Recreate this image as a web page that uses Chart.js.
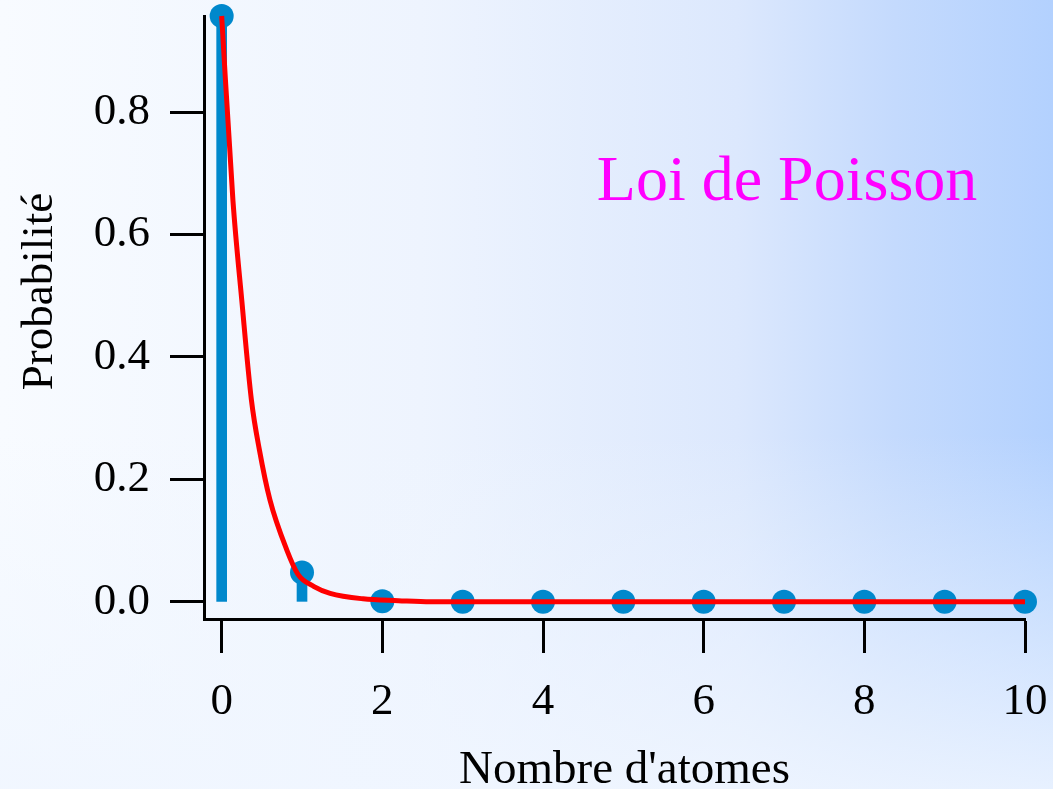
<!DOCTYPE html>
<html>
<head>
<meta charset="utf-8">
<script src="https://cdn.jsdelivr.net/npm/chart.js@4/dist/chart.umd.min.js"></script>
<style>
  html, body { margin: 0; padding: 0; overflow: hidden; }
  #wrap {
    width: 1053px; height: 789px; position: relative;
    background:
      linear-gradient(to bottom, rgba(242,247,255,0) 0%, rgba(242,247,255,0) 55%, rgba(240,246,255,0.85) 100%),
      linear-gradient(to right, #f8fbff 0%, #eef4fe 40%, #dce8fd 70%, #c4dafd 85%, #b3d1fe 100%);
  }
</style>
</head>
<body>
<div id="wrap"><canvas id="chart"></canvas></div>
<script>
// Poisson probabilities at each atom count
const atomCounts = [0, 1, 2, 3, 4, 5, 6, 7, 8, 9, 10];
const probabilities = [0.957, 0.048, 0.001, 0, 0, 0, 0, 0, 0, 0, 0];

// red continuous curve
const curveX = [0, 0.14, 0.25, 0.37, 0.47, 0.6, 0.81, 0.95, 1.15, 1.35, 1.76, 2.2, 2.6, 4, 6, 8, 10];
const curveY = [0.957, 0.656, 0.493, 0.330, 0.248, 0.167, 0.085, 0.045, 0.025, 0.014, 0.005, 0.002, 0, 0, 0, 0, 0];

const xTicks = [0, 2, 4, 6, 8, 10];
const xTickLabels = ['0', '2', '4', '6', '8', '10'];
const yTicks = [0, 0.2, 0.4, 0.6, 0.8];
const yTickLabels = ['0.0', '0.2', '0.4', '0.6', '0.8'];

const xTitle = "Nombre d'atomes";
const yTitle = 'Probabilité';
const annotation = 'Loi de Poisson';
const annotationPos = { x: 4.67, y: 0.656 };

const serif = "'Liberation Serif', 'Times New Roman', serif";
const blue = '#0088cc';

// draws axis titles and the "Loi de Poisson" label
const textPlugin = {
  id: 'texts',
  afterDraw(chart) {
    const ctx = chart.ctx;
    const area = chart.chartArea;
    ctx.save();
    ctx.fillStyle = '#000';
    ctx.font = '47px ' + serif;
    ctx.textAlign = 'center';
    ctx.textBaseline = 'alphabetic';
    ctx.fillText(xTitle, (area.left + area.right) / 2 + 10, 783);

    ctx.save();
    ctx.font = '45px ' + serif;
    ctx.translate(52, (area.top + area.bottom) / 2 - 26);
    ctx.rotate(-Math.PI / 2);
    ctx.fillText(yTitle, 0, 0);
    ctx.restore();

    ctx.fillStyle = '#ff00ff';
    ctx.font = '64px ' + serif;
    ctx.textAlign = 'left';
    ctx.fillText(annotation,
      chart.scales.x.getPixelForValue(annotationPos.x),
      chart.scales.y.getPixelForValue(annotationPos.y));
    ctx.restore();
  }
};

const axisCommon = {
  offset: false,
  grid: {
    display: true,
    offset: false,
    drawOnChartArea: false,
    drawTicks: true,
    tickLength: 34,
    tickWidth: 3,
    tickColor: '#000'
  },
  border: { display: true, color: '#000', width: 3 }
};

new Chart(document.getElementById('chart'), {
  type: 'scatter',
  data: {
    datasets: [
      {
        type: 'line',
        data: curveX.map((x, i) => ({ x: x, y: curveY[i] })),
        borderColor: '#ff0000',
        borderWidth: 5,
        pointRadius: 0,
        cubicInterpolationMode: 'monotone',
        fill: false,
        clip: false,
        order: 0
      },
      {
        type: 'scatter',
        data: atomCounts.map((x, i) => ({ x: x, y: probabilities[i] })),
        backgroundColor: blue,
        borderWidth: 0,
        pointRadius: 12,
        clip: false,
        order: 1
      },
      {
        type: 'bar',
        data: atomCounts.map((x, i) => ({ x: x, y: probabilities[i] })),
        backgroundColor: blue,
        barThickness: 10,
        clip: false,
        order: 2
      }
    ]
  },
  options: {
    responsive: true,
    maintainAspectRatio: false,
    animation: false,
    layout: { padding: { left: 0, top: 16, right: 28, bottom: 0 } },
    plugins: {
      legend: { display: false },
      tooltip: { enabled: false }
    },
    scales: {
      x: {
        type: 'linear',
        min: -0.22,
        max: 10,
        ...axisCommon,
        afterBuildTicks: s => { s.ticks = xTicks.map(v => ({ value: v })); },
        afterFit: s => { s.height = 170; s.paddingLeft = 0; s.paddingRight = 0; },
        ticks: {
          padding: 22,
          color: '#000',
          font: { family: serif, size: 45 },
          callback: (v, i) => xTickLabels[i]
        }
      },
      y: {
        type: 'linear',
        min: -0.028,
        max: 0.957,
        ...axisCommon,
        afterBuildTicks: s => { s.ticks = yTicks.map(v => ({ value: v })); },
        afterFit: s => { s.width = 204; s.paddingTop = 0; s.paddingBottom = 0; },
        ticks: {
          padding: 20,
          color: '#000',
          font: { family: serif, size: 45 },
          callback: (v, i) => yTickLabels[i]
        }
      }
    }
  },
  plugins: [textPlugin]
});
</script>
</body>
</html>
